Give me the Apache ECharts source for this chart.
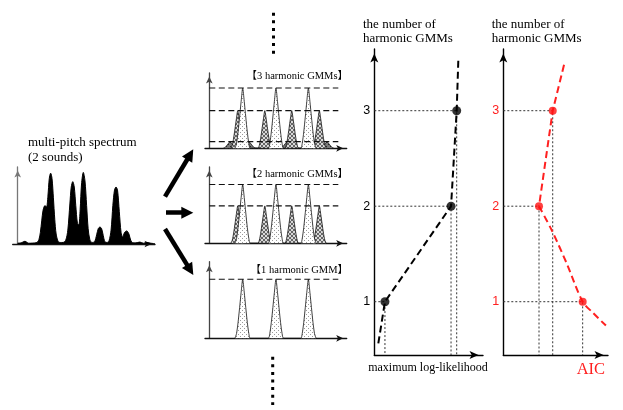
<!DOCTYPE html>
<html><head><meta charset="utf-8">
<script src="https://cdn.jsdelivr.net/npm/echarts@6/dist/echarts.min.js"></script>
<style>html,body{margin:0;padding:0;background:#fff}#c{width:623px;height:410px}</style>
</head><body><div id="c"></div><script>
// ---------- data ----------
// observed multi-pitch spectrum (frequency units, normalized power)
const spectrumX = [0,2.5,5.3,8,11,14,15.5,16.5,17.5,18.5,19.9,21,22,23,24,25,26,27,28,29.5,31,33,35,36.5,38,39,40.1,41.2,42.3,43.5,44.5,45.5,46.5,47.8,49,50.2,51.3,52.5,54,56,57.5,58.7,59.9,61.1,62.3,63.5,65,66.5,68,69.3,70.5,71.6,72.7,74,75.3,76.5,77.8,79.4,81,82.3,84,86,89,91.5,94,97,100];
const spectrumY = [0.01,0.015,0.035,0.01,0.012,0.02,0.06,0.15,0.3,0.44,0.5,0.48,0.62,0.85,0.92,0.85,0.6,0.32,0.13,0.03,0.02,0.02,0.05,0.18,0.52,0.74,0.81,0.74,0.5,0.27,0.25,0.45,0.78,0.93,0.82,0.5,0.2,0.06,0.02,0.03,0.12,0.2,0.22,0.2,0.11,0.03,0.02,0.04,0.18,0.5,0.7,0.74,0.7,0.42,0.15,0.09,0.15,0.17,0.13,0.05,0.015,0.015,0.025,0.01,0.02,0.01,0.005];
// harmonic GMM component centres
const gmmAHarmonics = [24.3, 48.5, 72.1];          // 1st harmonic GMM
const gmmBHarmonics = [20.7, 40.4, 60.0, 80.1];    // 2nd harmonic GMM
const gmmCHarmonics = [15.1, 28.9, 43.5, 56.6, 71.1, 85.7]; // 3rd harmonic GMM
// weights per model (3 GMMs, 2 GMMs, 1 GMM)
const weights3 = [0.80, 0.50, 0.088];
const weights2 = [0.77, 0.49];
const weights1 = [0.77];
const halfWidths = [5.6, 5.0, 5.0];
// sampled component shape (relative offset / relative height)
const peakOffsets = [-1,-0.8,-0.6,-0.4,-0.2,0,0.2,0.4,0.6,0.8,1];
const peakProfile = [0,0.08,0.27,0.52,0.78,1,0.78,0.52,0.27,0.08,0];
// model selection
const numGMMs = [1, 2, 3];
const maxLogLik = [9.8, 70.6, 75.8];
const llCurveX = [3.7, 9.8, 70.6, 75.8, 77.3];
const llCurveY = [0.564, 1, 2, 3, 3.53];
const aicValues = [75.8, 34.1, 47.2];
const aicUpperX = [58.0, 47.2, 34.1];
const aicUpperY = [3.48, 3, 2];
const aicLowerX = [34.1, 46.2, 60.6, 75.8, 86.0, 98];
const aicLowerY = [2, 1.75, 1.40, 1, 0.88, 0.75];
const yTickLabels = [1, 2, 3];
// flow arrows & ellipsis (overlay units)
const arrowPaths = [[[165,196.7],[190.2,154.5]],[[166,212.7],[187.3,212.7]],[[165,229],[190.2,269.9]]];
const ellipsisPaths = [[[273.5,12.7],[273.5,56]],[[272.7,356.7],[272.7,405]]];

// ---------- helpers ----------
function pattern(bg, fg, kind) {
  const c = document.createElement('canvas'); c.width = 4; c.height = 4;
  const g = c.getContext('2d');
  g.fillStyle = bg; g.fillRect(0,0,4,4); g.fillStyle = fg;
  if (kind === 'dots') { g.fillRect(0,0,1,1); g.fillRect(2,2,1,1); }
  else { for (let i=0;i<4;i++){ g.fillRect(i,i,1,1); g.fillRect(3-i,i,1,1);} }
  return {image: c, repeat: 'repeat'};
}
const fillTall = pattern('#ffffff', '#9a9a9a', 'dots');
const fillMed = pattern('#d8d8d8', '#666666', 'hatch');
const fillSmall = pattern('#7a7a7a', '#2a2a2a', 'dots');

function peaks(centers, h, hw) {
  const out = [];
  centers.forEach(c => peakOffsets.forEach((o,i) => out.push([c + o*hw, h*peakProfile[i]])));
  return out;
}
const serif = '"Liberation Serif","Times New Roman",serif';
const bracketFont = '"Liberation Serif","Noto Sans CJK JP",serif';

const grids = [
  {left: 12.7, top: 167, width: 142.3, height: 77},    // 0 spectrum
  {left: 205, top: 73, width: 141.7, height: 75.3},    // 1 three GMMs
  {left: 205, top: 167, width: 141.7, height: 76.3},   // 2 two GMMs
  {left: 205, top: 261.7, width: 141.7, height: 76.6}, // 3 one GMM
  {left: 374.3, top: 49, width: 108.7, height: 306},   // 4 log-likelihood
  {left: 503.3, top: 49, width: 104.7, height: 306},   // 5 AIC
  {left: 0, top: 0, width: 623, height: 410}           // 6 overlay
];

function axLine(color, w, sz) {
  return {show: true, onZero: true, symbol: ['none','arrow'], symbolSize: sz, symbolOffset: [0, -sz[1]/2],
    lineStyle: {color: color, width: w}};
}
const xAxes = [], yAxes = [];
for (let i = 0; i < 4; i++) {
  xAxes.push({type: 'value', gridIndex: i, min: i === 0 ? -3.64 : -3.13, max: 100,
    axisLine: axLine('#111', 1.3, [5, 7]), axisTick: {show: false}, axisLabel: {show: false}, splitLine: {show: false}});
  yAxes.push({type: 'value', gridIndex: i, min: 0, max: 1,
    axisLine: axLine(i === 0 ? '#777' : '#444', 1.3, [5, 7]), axisTick: {show: false}, axisLabel: {show: false}, splitLine: {show: false}});
}
[4,5].forEach(i => {
  xAxes.push({type: 'value', gridIndex: i, min: 0, max: 100,
    axisLine: axLine('#000', 1.4, [6, 9]), axisTick: {show: false}, axisLabel: {show: false}, splitLine: {show: false}});
  yAxes.push({type: 'value', gridIndex: i, min: 0.442, max: 3.646,
    axisLine: axLine('#000', 1.4, [6, 9]), axisTick: {show: false}, splitLine: {show: false},
    axisLabel: {show: true, customValues: yTickLabels, margin: 4, fontSize: 12.5,
      fontFamily: '"Liberation Sans",Arial,sans-serif', color: i === 4 ? '#000' : '#ff2020'}});
});
xAxes.push({type: 'value', gridIndex: 6, min: 0, max: 623, show: false});
yAxes.push({type: 'value', gridIndex: 6, min: 0, max: 410, inverse: true, show: false});

const series = [];
// spectrum
series.push({type: 'line', xAxisIndex: 0, yAxisIndex: 0, smooth: 0.3, showSymbol: false,
  data: spectrumX.map((x,i) => [x, spectrumY[i]]),
  lineStyle: {color: '#000', width: 1}, areaStyle: {color: '#000', opacity: 1}});

function gmmPanel(ai, w) {
  const used = [gmmAHarmonics, gmmBHarmonics, gmmCHarmonics].slice(0, w.length);
  const fills = [fillTall, fillMed, fillSmall];
  for (let g = used.length - 1; g >= 0; g--) {
    series.push({type: 'line', xAxisIndex: ai, yAxisIndex: ai, showSymbol: false, smooth: 0.25,
      data: peaks(used[g], w[g], halfWidths[g]),
      lineStyle: {color: '#111', width: 0.8}, areaStyle: {color: fills[g], opacity: 1}, z: 2 + (2 - g)});
  }
  w.forEach(h => series.push({type: 'line', xAxisIndex: ai, yAxisIndex: ai, showSymbol: false,
    data: [[0, h], [93.9, h]], lineStyle: {color: '#111', width: 1.1, type: [6, 3.5]}, z: 6}));
}
gmmPanel(1, weights3);
gmmPanel(2, weights2);
gmmPanel(3, weights1);

function guides(ai, xs) {
  xs.forEach((x, i) => series.push({type: 'line', xAxisIndex: ai, yAxisIndex: ai, showSymbol: false,
    data: [[0, numGMMs[i]], [x, numGMMs[i]], [x, 0.442]], lineStyle: {color: '#333', width: 1, type: [2, 2]}, z: 1}));
}
guides(4, maxLogLik);
guides(5, aicValues);
series.push({type: 'line', xAxisIndex: 4, yAxisIndex: 4, showSymbol: false,
  data: llCurveX.map((x,i) => [x, llCurveY[i]]), lineStyle: {color: '#000', width: 2, type: [7, 4]}, z: 3});
series.push({type: 'scatter', xAxisIndex: 4, yAxisIndex: 4, symbolSize: 9,
  data: maxLogLik.map((x,i) => [x, numGMMs[i]]), itemStyle: {color: '#000'}, z: 5});
series.push({type: 'line', xAxisIndex: 5, yAxisIndex: 5, showSymbol: false,
  data: aicUpperX.map((x,i) => [x, aicUpperY[i]]), lineStyle: {color: '#ff2020', width: 2, type: [7, 4]}, z: 3});
series.push({type: 'line', xAxisIndex: 5, yAxisIndex: 5, showSymbol: false, smooth: 0.3, clip: false,
  data: aicLowerX.map((x,i) => [x, aicLowerY[i]]), lineStyle: {color: '#ff2020', width: 2, type: [7, 4]}, z: 3});
series.push({type: 'scatter', xAxisIndex: 5, yAxisIndex: 5, symbolSize: 8,
  data: aicValues.map((x,i) => [x, numGMMs[i]]), itemStyle: {color: '#ff1010'}, z: 5});
// overlay: flow arrows and ellipsis
series.push({type: 'lines', coordinateSystem: 'cartesian2d', xAxisIndex: 6, yAxisIndex: 6,
  symbol: ['none', 'triangle'], symbolSize: 12,
  data: arrowPaths.map(p => ({coords: p})), lineStyle: {color: '#000', width: 4.5, opacity: 1}, z: 10});
ellipsisPaths.forEach(p => series.push({type: 'line', xAxisIndex: 6, yAxisIndex: 6, showSymbol: false,
  data: p, lineStyle: {color: '#000', width: 3, type: [3, 4.6]}, z: 10}));

function txt(text, x, y, font, color, align) {
  return {type: 'text', x: x, y: y, z: 100,
    style: {text: text, font: font, fill: color || '#000', textAlign: align || 'left', textVerticalAlign: 'middle'}};
}
const graphics = [
  txt('multi-pitch spectrum', 28, 142.6, '13px ' + serif),
  txt('(2 sounds)', 28, 158, '13px ' + serif),
  txt('【3 harmonic GMMs】', 348, 76, '10.5px ' + bracketFont, '#000', 'right'),
  txt('【2 harmonic GMMs】', 348, 174.3, '10.5px ' + bracketFont, '#000', 'right'),
  txt('【1 harmonic GMM】', 348, 270, '10.5px ' + bracketFont, '#000', 'right'),
  txt('the number of', 363, 24.5, '13px ' + serif),
  txt('harmonic GMMs', 363, 38.5, '13px ' + serif),
  txt('the number of', 491.7, 24.5, '13px ' + serif),
  txt('harmonic GMMs', 491.7, 38.5, '13px ' + serif),
  txt('maximum log-likelihood', 428, 368, '12px ' + serif, '#000', 'center'),
  txt('AIC', 576.7, 369.2, '16.5px ' + serif, '#ff2020')
];

const chart = echarts.init(document.getElementById('c'), null, {renderer: 'canvas'});
chart.setOption({
  animation: false, backgroundColor: '#fff',
  grid: grids, xAxis: xAxes, yAxis: yAxes, series: series, graphic: graphics
});
</script></body></html>
